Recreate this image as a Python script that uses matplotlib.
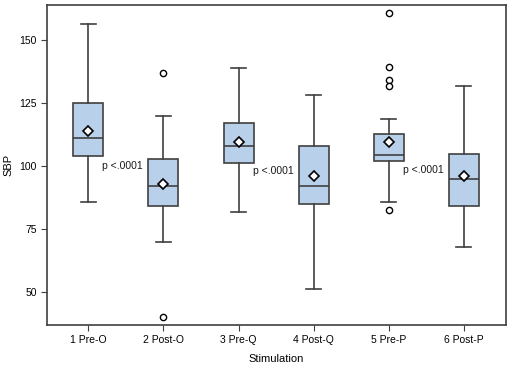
import matplotlib.pyplot as plt

plt.rcParams['font.family'] = ['Liberation Sans', 'DejaVu Sans']

labels = ['1 Pre-O', '2 Post-O', '3 Pre-Q', '4 Post-Q', '5 Pre-P', '6 Post-P']
whislo = [85.9, 70.0, 81.9, 51.1, 85.9, 68.1]
q1 = [104.1, 84.1, 101.2, 85.2, 102.1, 84.1]
med = [111.4, 92.1, 108.2, 92.2, 104.5, 95.1]
q3 = [125.0, 102.8, 117.3, 108.0, 113.0, 104.9]
whishi = [156.3, 120.0, 139.0, 128.1, 118.6, 132.0]
means = [113.9, 93.1, 109.8, 96.0, 109.8, 96.2]
fliers = [[], [137.2, 40.1], [], [], [160.8, 139.2, 134.1, 131.8, 82.7], []]

p_labels = ['p <.0001', 'p <.0001', 'p <.0001']
p_x = [1.73, 3.73, 5.73]
p_y = [100.2, 98.0, 98.5]

stats = []
for i in range(len(labels)):
    stats.append({'label': labels[i], 'whislo': whislo[i], 'q1': q1[i], 'med': med[i],
                  'q3': q3[i], 'whishi': whishi[i], 'mean': means[i], 'fliers': fliers[i]})

fig = plt.figure(figsize=(5.1, 3.66), dpi=100)
ax = fig.add_axes([47/510, 41/366, 459/510, 320/366])

edge = '#404040'
ax.bxp(stats, positions=range(1, 7), widths=0.4, patch_artist=True, showmeans=True,
       boxprops=dict(facecolor='#b9d0ea', edgecolor=edge, linewidth=1.2),
       medianprops=dict(color=edge, linewidth=1.2),
       whiskerprops=dict(color=edge, linewidth=1.2),
       capprops=dict(color=edge, linewidth=1.2),
       meanprops=dict(marker='D', markerfacecolor='white', markeredgecolor='black',
                      markersize=5.5, markeredgewidth=1.2),
       flierprops=dict(marker='o', markerfacecolor='white', markeredgecolor='black',
                       markersize=4.5, markeredgewidth=1.0))

for x, y, t in zip(p_x, p_y, p_labels):
    ax.text(x, y, t, fontsize=7.5, ha='right', va='center', color='#1a1a1a')

ax.set_xlim(0.45, 6.56)
ax.set_ylim(37, 164)
ax.set_yticks([50, 75, 100, 125, 150])
ax.tick_params(labelsize=7.5, color=edge, length=4)
ax.set_xlabel('Stimulation', fontsize=8, labelpad=6)
ax.set_ylabel('SBP', fontsize=8, labelpad=4)
for s in ax.spines.values():
    s.set_color(edge)
    s.set_linewidth(1.2)

fig.savefig('out.png', dpi=100)
